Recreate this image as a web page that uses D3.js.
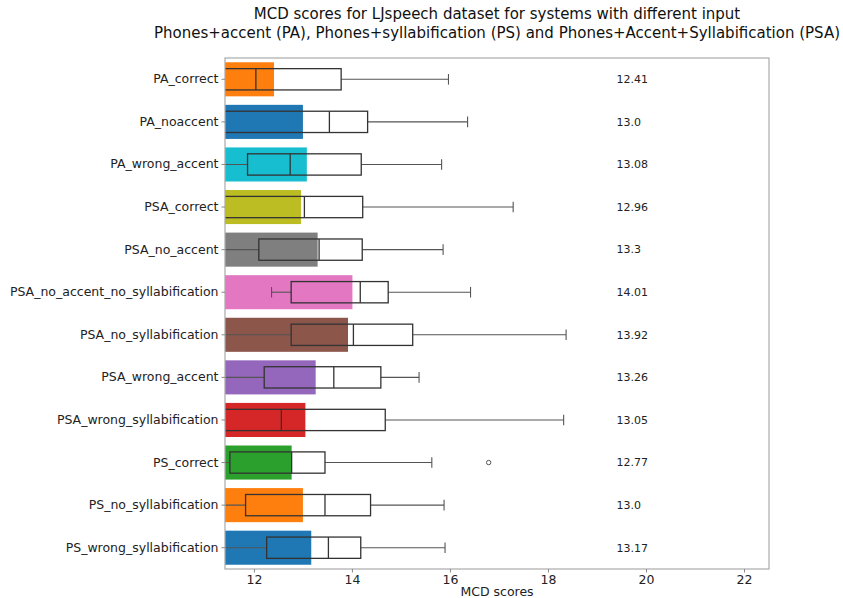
<!DOCTYPE html>
<html>
<head>
<meta charset="utf-8">
<script src="https://cdn.jsdelivr.net/npm/d3@7"></script>
<style>
  body { margin: 0; background: #fff; }
  svg { display: block; font-family: "DejaVu Sans", sans-serif; }
</style>
</head>
<body>
<svg id="chart" width="843" height="598"></svg>
<script>
// Systems, top to bottom
const systems = [
  "PA_correct", "PA_noaccent", "PA_wrong_accent", "PSA_correct", "PSA_no_accent",
  "PSA_no_accent_no_syllabification", "PSA_no_syllabification", "PSA_wrong_accent",
  "PSA_wrong_syllabification", "PS_correct", "PS_no_syllabification", "PS_wrong_syllabification"
];
// Mean MCD per system (bar length and printed value)
const means = [12.41, 13.0, 13.08, 12.96, 13.3, 14.01, 13.92, 13.26, 13.05, 12.77, 13.0, 13.17];
const barColors = ["#ff7f0e", "#1f77b4", "#17becf", "#bcbd22", "#7f7f7f", "#e377c2",
                   "#8c564b", "#9467bd", "#d62728", "#2ca02c", "#ff7f0e", "#1f77b4"];
// Box plot statistics per system
const whiskerLow  = [10.6, 10.8, 11.0, 10.7, 11.0, 12.36, 11.0, 11.0, 10.7, 11.0, 11.0, 11.0];
const q1          = [11.2, 11.3, 11.87, 11.3, 12.10, 12.76, 12.76, 12.21, 11.3, 11.51, 11.83, 12.26];
const medians     = [12.04, 13.54, 12.74, 13.03, 13.33, 14.17, 14.03, 13.63, 12.56, 12.77, 13.45, 13.52];
const q3          = [13.78, 14.32, 14.19, 14.22, 14.21, 14.74, 15.24, 14.59, 14.68, 13.45, 14.38, 14.18];
const whiskerHigh = [15.97, 16.36, 15.83, 17.29, 15.86, 16.42, 18.37, 15.37, 18.32, 15.63, 15.88, 15.90];
// Outliers: [system index, value]
const outliers = [[9, 16.79]];
const xTicks = [12, 14, 16, 18, 20, 22];
const xDomain = [11.41, 22.51];
const valueLabelX = 19.4;

// Print numbers the way Python's str() does (13.0, not 13)
const pyStr = v => Number.isInteger(v) ? v.toFixed(1) : String(v);

const margin = { top: 58, right: 74, bottom: 29, left: 225 };
const W = 843, H = 598;
const iw = W - margin.left - margin.right;
const ih = H - margin.top - margin.bottom;

const svg = d3.select("#chart");

svg.append("defs").append("clipPath").attr("id", "plotClip")
  .append("rect").attr("width", iw).attr("height", ih);

const g = svg.append("g").attr("transform", `translate(${margin.left},${margin.top})`);

const x = d3.scaleLinear().domain(xDomain).range([0, iw]);
const y = d3.scaleBand().domain(systems).range([0, ih]).padding(0);
const rowH = y.bandwidth();
const barH = rowH * 0.8;
const boxH = rowH * 0.5;
const capH = rowH * 0.25;

const plot = g.append("g").attr("clip-path", "url(#plotClip)");

// Mean bars
plot.selectAll("rect.bar").data(systems).join("rect")
  .attr("class", "bar")
  .attr("x", x(xDomain[0]) - 5)
  .attr("y", d => y(d) + (rowH - barH) / 2)
  .attr("width", (d, i) => x(means[i]) - x(xDomain[0]) + 5)
  .attr("height", barH)
  .attr("fill", (d, i) => barColors[i]);

// Box plots
const boxStroke = "#333";
const whiskStroke = "#555";
systems.forEach((s, i) => {
  const cy = y(s) + rowH / 2;
  const bg = plot.append("g");
  // whiskers
  bg.append("line").attr("x1", x(whiskerLow[i])).attr("x2", x(q1[i]))
    .attr("y1", cy).attr("y2", cy).attr("stroke", whiskStroke).attr("stroke-width", 1.1);
  bg.append("line").attr("x1", x(q3[i])).attr("x2", x(whiskerHigh[i]))
    .attr("y1", cy).attr("y2", cy).attr("stroke", whiskStroke).attr("stroke-width", 1.1);
  // caps
  [whiskerLow[i], whiskerHigh[i]].forEach(v => {
    bg.append("line").attr("x1", x(v)).attr("x2", x(v))
      .attr("y1", cy - capH / 2).attr("y2", cy + capH / 2)
      .attr("stroke", whiskStroke).attr("stroke-width", 1.1);
  });
  // box
  bg.append("rect").attr("x", x(q1[i])).attr("y", cy - boxH / 2)
    .attr("width", x(q3[i]) - x(q1[i])).attr("height", boxH)
    .attr("fill", "none").attr("stroke", boxStroke).attr("stroke-width", 1.3);
  // median
  bg.append("line").attr("x1", x(medians[i])).attr("x2", x(medians[i]))
    .attr("y1", cy - boxH / 2).attr("y2", cy + boxH / 2)
    .attr("stroke", boxStroke).attr("stroke-width", 1.3);
});

// Outlier points
plot.selectAll("circle.out").data(outliers).join("circle")
  .attr("class", "out")
  .attr("cx", d => x(d[1]))
  .attr("cy", d => y(systems[d[0]]) + rowH / 2)
  .attr("r", 2.2)
  .attr("fill", "none").attr("stroke", "#555").attr("stroke-width", 1);

// Mean value labels
g.selectAll("text.val").data(systems).join("text")
  .attr("class", "val")
  .attr("x", x(valueLabelX))
  .attr("y", d => y(d) + rowH / 2)
  .attr("dy", "0.35em")
  .attr("font-size", 11)
  .attr("fill", "#222")
  .text((d, i) => pyStr(means[i]));

// Frame
g.append("rect").attr("width", iw).attr("height", ih)
  .attr("fill", "none").attr("stroke", "#aaa").attr("stroke-width", 1.2);

// Axes
const xAxis = g.append("g").attr("transform", `translate(0,${ih})`)
  .call(d3.axisBottom(x).tickValues(xTicks).tickFormat(d3.format("d")).tickSize(3.5).tickPadding(3));
xAxis.select(".domain").remove();
xAxis.selectAll("line").attr("stroke", "#888");
xAxis.selectAll("text").attr("font-size", 12.5).attr("fill", "#222")
  .attr("font-family", "DejaVu Sans, sans-serif");

const yAxis = g.append("g")
  .call(d3.axisLeft(y).tickSize(3.5).tickPadding(3));
yAxis.select(".domain").remove();
yAxis.selectAll("line").attr("stroke", "#888");
yAxis.selectAll("text").attr("font-size", 12.5).attr("fill", "#222")
  .attr("font-family", "DejaVu Sans, sans-serif");

// Axis label
svg.append("text").attr("x", margin.left + iw / 2).attr("y", 596)
  .attr("text-anchor", "middle").attr("font-size", 12.5).attr("fill", "#222")
  .text("MCD scores");

// Title
const title = svg.append("text").attr("text-anchor", "middle")
  .attr("font-size", 15).attr("fill", "#111");
title.append("tspan").attr("x", margin.left + iw / 2).attr("y", 19)
  .text("MCD scores for LJspeech dataset for systems with different input");
title.append("tspan").attr("x", margin.left + iw / 2).attr("y", 38)
  .text("Phones+accent (PA), Phones+syllabification (PS) and Phones+Accent+Syllabification (PSA)");
</script>
</body>
</html>
